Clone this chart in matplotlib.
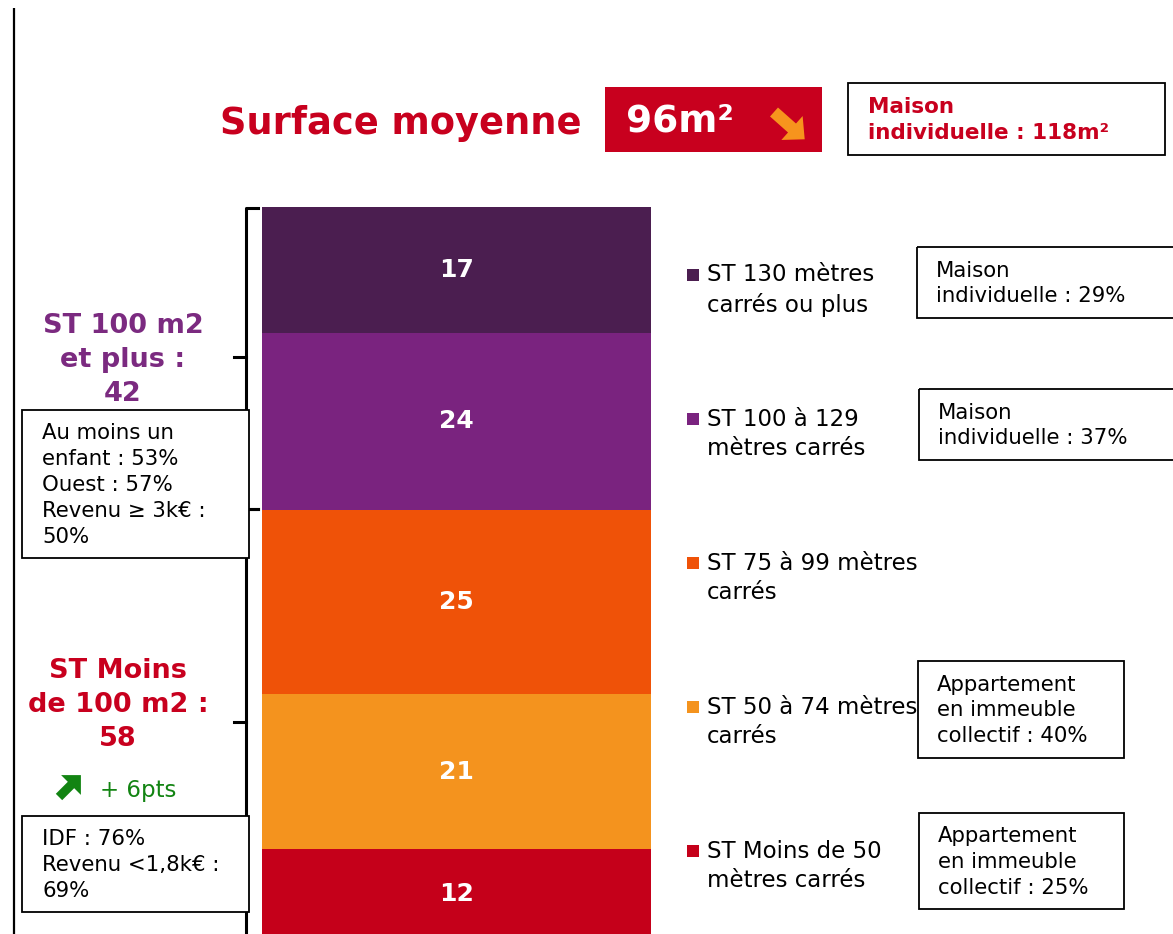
import matplotlib.pyplot as plt
import matplotlib.patches as mpatches
import numpy as np

# data (bottom to top)
categories = ["ST Moins de 50\nmètres carrés", "ST 50 à 74 mètres\ncarrés",
              "ST 75 à 99 mètres\ncarrés", "ST 100 à 129\nmètres carrés",
              "ST 130 mètres\ncarrés ou plus"]
values = [12, 21, 25, 24, 17]
colors = ["#c5001a", "#f4931e", "#ef5208", "#7a237f", "#4b1e50"]

side_notes = ["Appartement\nen immeuble\ncollectif : 25%",
              "Appartement\nen immeuble\ncollectif : 40%",
              None,
              "Maison\nindividuelle : 37%",
              "Maison\nindividuelle : 29%"]

surface_moyenne = "96m²"
maison_surface = "Maison\nindividuelle : 118m²"
group_high = "ST 100 m2\net plus :\n42"
group_low = "ST Moins\nde 100 m2 :\n58"
evol_low = "+ 6pts"
note_high = "Au moins un\nenfant : 53%\nOuest : 57%\nRevenu ≥ 3k€ :\n50%"
note_low = "IDF : 76%\nRevenu <1,8k€ :\n69%"

RED = "#c8001e"
PURPLE = "#7b2a80"
GREEN = "#128412"

W, H = 1173, 934
fig = plt.figure(figsize=(W / 100, H / 100), dpi=100)

# overlay axes in pixel coordinates (y down)
ax0 = fig.add_axes([0, 0, 1, 1])
ax0.set_xlim(0, W)
ax0.set_ylim(H, 0)
ax0.axis("off")

# stacked bar axes
top_px, bot_px = 207, 938
axb = fig.add_axes([262 / W, (H - bot_px) / H, 389 / W, (bot_px - top_px) / H])
bottom = 0
for v, c in zip(values, colors):
    axb.bar(0, v, width=1, bottom=bottom, color=c, linewidth=0)
    axb.text(0, bottom + v / 2, str(v), ha="center", va="center", color="white",
             fontsize=18, fontweight="bold")
    bottom += v
axb.set_xlim(-0.5, 0.5)
axb.set_ylim(0, sum(values))
axb.axis("off")

# left vertical rule
ax0.plot([14, 14], [8, H], color="black", lw=1.6, solid_capstyle="butt")

# title
ax0.text(401, 124, "Surface moyenne", ha="center", va="center", color=RED,
         fontsize=26.5, fontweight="bold")
ax0.add_patch(mpatches.Rectangle((605, 87), 217, 65, color=RED, lw=0))
ax0.text(626, 121, surface_moyenne, ha="left", va="center", color="white",
         fontsize=27, fontweight="bold")
ax0.add_patch(mpatches.FancyArrow(774, 112, 18, 16, width=12, head_width=32,
                                  head_length=17, color="#f7941d", lw=0))
ax0.add_patch(mpatches.Rectangle((848, 83), 317, 72, fill=False, ec="black", lw=1.3))
ax0.text(868, 120, maison_surface, ha="left", va="center", color=RED,
         fontsize=15.5, fontweight="bold", linespacing=1.4)


def brace(y0, y1, ym):
    x = 246
    ax0.plot([258, x, x, 258], [y0, y0, y1, y1], color="black", lw=2.2,
             solid_joinstyle="round")
    ax0.plot([x, 234], [ym, ym], color="black", lw=2.2)


brace(208, 509, 357)
brace(509, 940, 722)

# group labels
ax0.text(123, 360, group_high, ha="center", va="center", color=PURPLE,
         fontsize=19.5, fontweight="bold", linespacing=1.38)
ax0.text(118, 705, group_low, ha="center", va="center", color=RED,
         fontsize=19.5, fontweight="bold", linespacing=1.38)
ax0.add_patch(mpatches.FancyArrow(59, 797, 12, -12, width=9, head_width=28,
                                  head_length=14, color=GREEN, lw=0))
ax0.text(100, 790, evol_low, ha="left", va="center", color=GREEN, fontsize=16.5)

# left note boxes
ax0.add_patch(mpatches.Rectangle((22, 410), 227, 148, fc="white",
                                 ec="black", lw=1.3, zorder=3))
ax0.text(42, 485, note_high, ha="left", va="center", fontsize=15.3,
         linespacing=1.38, zorder=4)
ax0.add_patch(mpatches.Rectangle((22, 816), 227, 96, fc="white",
                                 ec="black", lw=1.3, zorder=3))
ax0.text(42, 865, note_low, ha="left", va="center", fontsize=15.3,
         linespacing=1.38, zorder=4)

# legend entries with side notes
legend_y = [866, 722, 578, 434, 290]
box_geom = [(919, 813, 205, 96), (918, 661, 206, 97), None,
            (919, 389, 260, 71), (917, 247, 262, 71)]
for cat, c, ly, note, geom in zip(categories, colors, legend_y, side_notes, box_geom):
    ax0.add_patch(mpatches.Rectangle((687, ly - 21), 12, 12, color=c, lw=0))
    ax0.text(707, ly, cat, ha="left", va="center", fontsize=16.5,
             linespacing=1.38, zorder=2)
    if note is not None:
        bx, by, bw, bh = geom
        ax0.add_patch(mpatches.Rectangle((bx, by), bw, bh, fill=False,
                                         ec="black", lw=1.3, zorder=3))
        ax0.text(bx + 19, by + bh / 2 + 1, note, ha="left", va="center",
                 fontsize=15.3, linespacing=1.35, zorder=4)

fig.savefig("out.png", dpi=100)
